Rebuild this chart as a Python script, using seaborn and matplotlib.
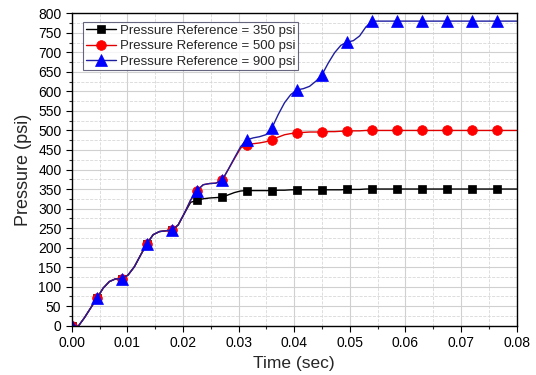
import numpy as np
import pandas as pd
import matplotlib
matplotlib.use('Agg')
import matplotlib.pyplot as plt
import seaborn as sns
from matplotlib.ticker import MultipleLocator, FormatStrFormatter

# Time samples every 0.001125 s (a marker on every 4th one), last point at the axis end
time_sec = list(np.round(np.arange(69) * 0.001125, 6)) + [0.08]

# Pressure values (psi)
p900 = [0, -2, 20, 45, 70, 96, 113, 120, 120, 130, 151, 181, 210, 233, 241, 243,
        245, 258, 288, 322, 346, 361, 364, 365, 372, 400, 430, 459, 476, 481, 484,
        489, 507, 541, 571, 592, 604, 607, 613, 626, 643, 673, 699, 718, 726, 730,
        742, 765, 780] + [780] * 21
p500 = [0, -2, 20, 45, 70, 96, 113, 120, 120, 130, 151, 181, 210, 233, 241, 243,
        245, 258, 288, 322, 346, 361, 364, 365, 372, 400, 428, 455, 464, 466, 468,
        471, 476, 483, 489, 492, 494, 495, 496, 496, 496, 497, 497, 498, 498, 499,
        499, 500, 500] + [500] * 21
p350 = [0, -2, 20, 45, 70, 96, 113, 120, 120, 130, 151, 181, 210, 233, 241, 243,
        245, 258, 288, 316, 321, 325, 327, 328, 329, 335, 341, 345, 346, 346, 346,
        346, 346, 347, 347, 348, 348, 348, 348, 348, 348, 348, 348, 348, 349, 349,
        349, 350, 350] + [350] * 21

labels = ['Pressure Reference = 350 psi',
          'Pressure Reference = 500 psi',
          'Pressure Reference = 900 psi']
line_colors = ['black', '#e00000', '#1e1ea0']
marker_colors = ['black', 'red', 'blue']
markers = ['s', 'o', '^']
msizes = [6.3, 7.0, 8.0]

df = pd.DataFrame({'t': time_sec, '350': p350, '500': p500, '900': p900})

sns.set_style('white')
plt.rcParams['font.family'] = ['Liberation Sans', 'DejaVu Sans']

fig = plt.figure(figsize=(5.36, 3.75), dpi=100)
ax = fig.add_axes([0.134, 0.1315, 0.83, 0.833])

for col, lab, lc, mc, m, ms in zip(['350', '500', '900'], labels, line_colors,
                                    marker_colors, markers, msizes):
    sns.lineplot(data=df, x='t', y=col, ax=ax, color=lc, linewidth=1.0,
                 marker=m, markersize=ms, markevery=slice(0, 69, 4),
                 markerfacecolor=mc, markeredgecolor=mc, markeredgewidth=0.5,
                 estimator=None, sort=False, label=lab)

ax.set_xlim(0, 0.08)
ax.set_ylim(0, 800)
ax.xaxis.set_major_locator(MultipleLocator(0.01))
ax.xaxis.set_minor_locator(MultipleLocator(0.005))
ax.yaxis.set_major_locator(MultipleLocator(50))
ax.yaxis.set_minor_locator(MultipleLocator(25))
ax.xaxis.set_major_formatter(FormatStrFormatter('%.2f'))

ax.grid(which='major', color='#d0d0d0', linewidth=0.8, linestyle='-')
ax.grid(which='minor', color='#d8d8d8', linewidth=0.6, linestyle='--')
ax.set_axisbelow(True)

ax.tick_params(which='major', direction='out', length=4, width=0.8,
               labelsize=10, bottom=True, left=True, colors='black')
ax.tick_params(which='minor', direction='out', length=2.5, width=0.8,
               bottom=True, left=True)
for s in ax.spines.values():
    s.set_color('black')
    s.set_linewidth(1.0)

ax.set_xlabel('Time (sec)', fontsize=12.5)
ax.set_ylabel('Pressure (psi)', fontsize=13)

leg = ax.legend(loc='upper left', bbox_to_anchor=(0.025, 0.973), fontsize=9.5,
                frameon=True, fancybox=False, borderpad=0.2, labelspacing=0.25,
                handlelength=2.3, handletextpad=0.3, borderaxespad=0.0)
leg.get_frame().set_edgecolor('#404060')
leg.get_frame().set_linewidth(0.8)

fig.savefig('out.png', dpi=100)
